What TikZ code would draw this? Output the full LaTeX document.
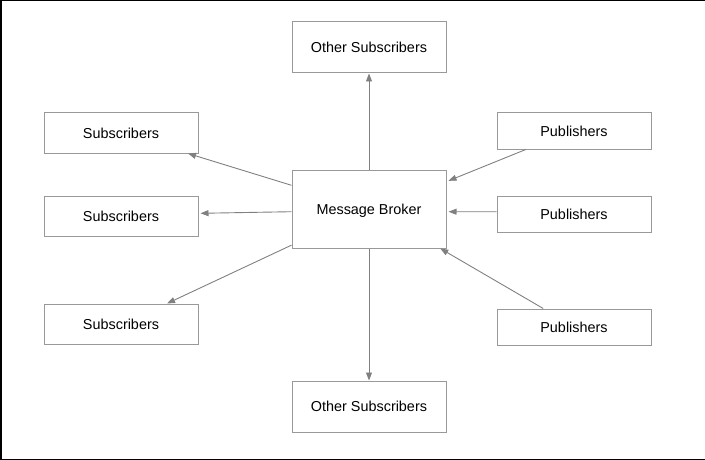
\documentclass[tikz,border=0pt]{standalone}
\usepackage{fontspec}
\setmainfont{Liberation Sans}
\usepackage{xcolor}
\usetikzlibrary{positioning, arrows.meta}

\begin{document}
\begin{tikzpicture}[x = 1pt, y = -1pt,
  box/.style = {draw = black!40, line width = 1pt, minimum width = 154pt, inner sep = 0pt,
    text depth = 0pt, font = \fontsize{14.4}{17}\selectfont},
  link/.style = {draw = black!50, line width = 0.9pt, -{Triangle[length = 8pt, width = 6pt]}}]
\useasboundingbox (0, 0) rectangle (705, 460);
\draw [line width = 1.5pt] (705, 0.75) -- (0.75, 0.75) -- (0.75, 459.25) -- (705, 459.25);
\node [box, minimum height = 51pt] (otop) at (369, 47.5) {Other Subscribers};
\node [box, minimum height = 78pt] (broker) at (369, 209) {Message Broker};
\node [box, minimum height = 51pt] (obottom) at (369, 406.5) {Other Subscribers};
\node [box, minimum height = 40pt] (sub1) at (121, 133) {Subscribers};
\node [box, minimum height = 40pt] (sub2) at (121, 216) {Subscribers};
\node [box, minimum height = 40pt] (sub3) at (121, 324) {Subscribers};
\node [box, minimum height = 36pt] (pub1) at (574, 131) {Publishers};
\node [box, minimum height = 36pt] (pub2) at (574, 214.5) {Publishers};
\node [box, minimum height = 36pt] (pub3) at (574, 327) {Publishers};
\draw [link] (broker.north) -- (otop.south);
\draw [link] (broker.south) -- (obottom.north);
\draw [link] (broker.163) -- (sub1.343);
\draw [link] (broker.182) -- ([xshift = 2pt] sub2.2);
\draw [link] (broker.205) -- (sub3.24);
\draw [link] (pub1.201) -- ([xshift = 2pt] broker.20);
\draw [link] (pub2.178) -- ([xshift = 2pt] broker.358);
\draw [link] (pub3.149) -- (broker.331);
\end{tikzpicture}
\end{document}
